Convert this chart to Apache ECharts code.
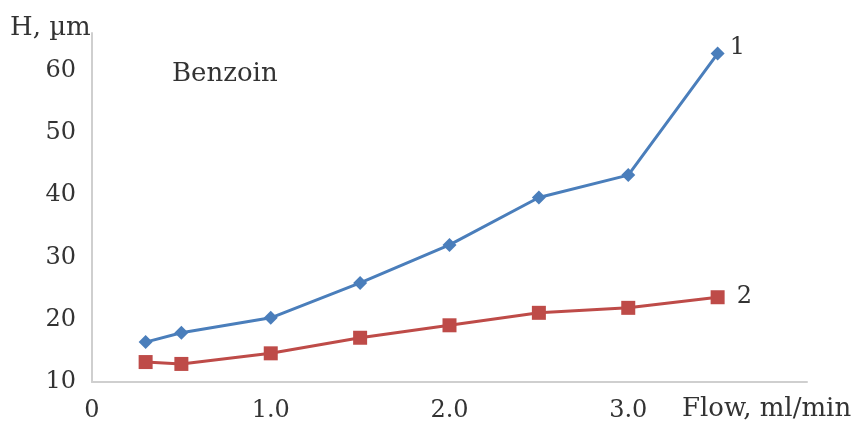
<!DOCTYPE html>
<html><head><meta charset="utf-8">
<script src="https://cdn.jsdelivr.net/npm/echarts@6/dist/echarts.min.js"></script>
<style>html,body{margin:0;padding:0;background:#fff}#c{width:858px;height:429px}</style>
</head><body><div id="c"></div>
<script>
const flow = [0.3, 0.5, 1.0, 1.5, 2.0, 2.5, 3.0, 3.5];
const series1 = [16.4, 17.9, 20.3, 25.9, 32.0, 39.6, 43.2, 62.7];
const series2 = [13.2, 12.9, 14.6, 17.1, 19.1, 21.1, 21.9, 23.6];
const seriesNames = ['1', '2'];
const yTicks = [10, 20, 30, 40, 50, 60];
const xTicks = [0, 1, 2, 3];
const yTitle = 'H, µm';
const xTitle = 'Flow, ml/min';
const note = 'Benzoin';

const FONT = 'DejaVu Serif';
const TXT = '#333333';
const chart = echarts.init(document.getElementById('c'), null, {renderer: 'canvas'});
const pairs = (ys) => flow.map((x, i) => [x, ys[i]]);
chart.setOption({
  animation: false,
  backgroundColor: '#fff',
  grid: {left: 92, right: 51, top: 33, bottom: 47},
  xAxis: {
    type: 'value', min: 0, max: 4, interval: 1,
    axisLine: {show: true, lineStyle: {color: '#cfcfcf', width: 2}},
    axisTick: {show: false}, splitLine: {show: false},
    axisLabel: {showMaxLabel: false, margin: 17, color: TXT, fontFamily: FONT, fontSize: 24,
      formatter: v => xTicks.indexOf(v) < 0 ? '' : (v === 0 ? '0' : v.toFixed(1))}
  },
  yAxis: {
    type: 'value', min: 10, max: 66, interval: 10,
    axisLine: {show: true, lineStyle: {color: '#cfcfcf', width: 2}},
    axisTick: {show: false}, splitLine: {show: false},
    axisLabel: {showMaxLabel: false, margin: 16, color: TXT, fontFamily: FONT, fontSize: 24,
      formatter: v => yTicks.indexOf(v) < 0 ? '' : String(v)}
  },
  series: [
    {name: seriesNames[0], type: 'line', data: pairs(series1), symbol: 'diamond', symbolSize: 14,
     lineStyle: {color: '#4a7ebb', width: 3}, itemStyle: {color: '#4a7ebb'},
     endLabel: {show: true, formatter: seriesNames[0], color: TXT, fontFamily: FONT, fontSize: 24, distance: 12, offset: [0, -6]}},
    {name: seriesNames[1], type: 'line', data: pairs(series2), symbol: 'rect', symbolSize: 14,
     lineStyle: {color: '#be4b48', width: 3}, itemStyle: {color: '#be4b48'},
     endLabel: {show: true, formatter: seriesNames[1], color: TXT, fontFamily: FONT, fontSize: 24, distance: 19}}
  ],
  graphic: [
    {type: 'text', left: 10, top: 15, style: {text: yTitle, fill: TXT, font: '26px "DejaVu Serif"'}},
    {type: 'text', left: 172, top: 61, style: {text: note, fill: TXT, font: '26px "DejaVu Serif"'}},
    {type: 'text', left: 682, top: 396, style: {text: xTitle, fill: TXT, font: '26px "DejaVu Serif"'}}
  ]
});
</script></body></html>
